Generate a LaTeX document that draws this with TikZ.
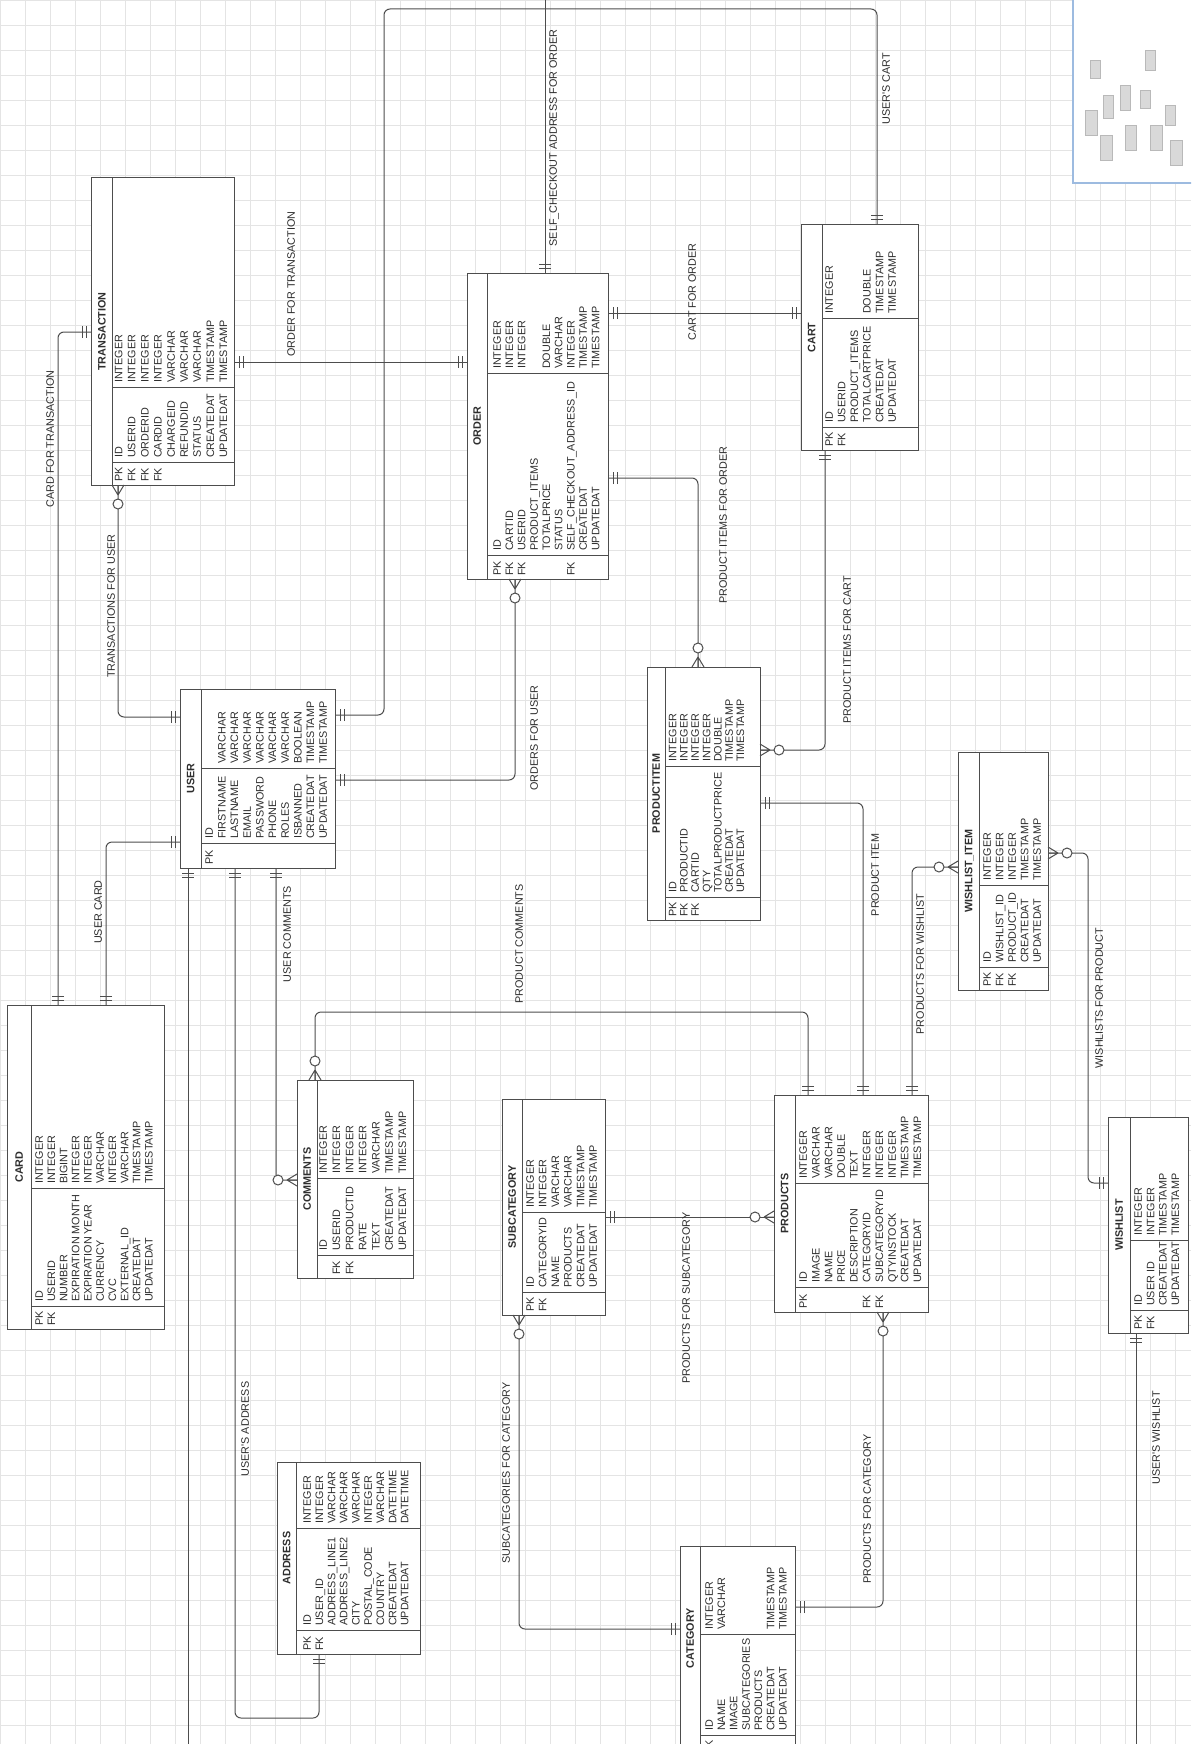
\documentclass[tikz,border=0pt]{standalone}
\usepackage{fontspec}
\setmainfont{Liberation Sans}
\definecolor{ln}{HTML}{4D4D4D}
\definecolor{tx}{HTML}{2E2E2E}
\definecolor{gridc}{HTML}{E4E4E4}
\definecolor{thumbc}{HTML}{9DBBE0}
\tikzset{
  tbl/.style={draw=ln, line width=1pt},
  fld/.style={rotate=90, anchor=west, inner sep=0pt, text height=7.7pt, text depth=0pt, font=\fontsize{10.8}{12}\selectfont, text=tx},
  ttl/.style={rotate=90, inner sep=0pt, text height=7.7pt, text depth=0pt, font=\fontsize{10.8}{12}\selectfont\bfseries, text=tx},
  lbl/.style={rotate=90, inner sep=0pt, text height=7.7pt, text depth=0pt, font=\fontsize{10.8}{12}\selectfont, text=tx},
  conn/.style={draw=ln, line width=1pt, rounded corners=6pt},
  mk/.style={draw=ln, line width=1pt},
}
\def\titleshift{0}
\newcommand\ertable[9]{%
  \draw[tbl, fill=white] (#3,#4) rectangle (#5,#6);
  \draw[tbl] (#7,#4) -- (#7,#6) (#7,#8) -- (#5,#8) (#7,#9) -- (#5,#9);
  \node[ttl] (#1-title) at ({(#3+#7)/2},{(#4+#6)/2+\titleshift}) {#2};
  \gdef\curid{#1}\gdef\curbot{#6}\gdef\curtype{#8}\gdef\curpk{#9}%
}
\newcommand\errows[3]{%
  \foreach \k/\n/\ty [count=\i from 0] in {#3} {
    \pgfmathsetmacro\rx{#1+\i*#2}
    \node[fld] (F\curid key\i) at (\rx,\curbot-3) {\k};
    \node[fld] (F\curid name\i) at (\rx,\curpk-4) {\n};
    \node[fld] (F\curid type\i) at (\rx,\curtype-4) {\ty};
  }
}
\newcommand\mone[2]{\begin{scope}[shift={(#1)},rotate=#2]\draw[mk] (5pt,-6pt)--(5pt,6pt) (9pt,-6pt)--(9pt,6pt);\end{scope}}
\newcommand\mmany[2]{\begin{scope}[shift={(#1)},rotate=#2]\draw[mk] (10pt,0pt)--(0pt,6pt) (10pt,0pt)--(0pt,-6pt) (10pt,0pt)--(0pt,0pt);\draw[mk,fill=white] (19pt,0pt) circle (5pt);\end{scope}}
\begin{document}
\begin{tikzpicture}[x=1pt,y=-1pt]
\useasboundingbox (0,0) rectangle (1191,1744);
\clip (0,0) rectangle (1191,1744);
\fill[white] (0,0) rectangle (1191,1744);
\draw[gridc, line width=0.6pt, step=25pt] (0,0) grid (1191,1744);

% ---------- connector end points ----------
\coordinate (tr-w) at (91.7,332);
\coordinate (tr-s) at (118,485);
\coordinate (tr-e) at (234,362);
\coordinate (ord-w) at (467,362);
\coordinate (ord-n) at (545,273);
\coordinate (top-a) at (545,0);
\coordinate (ord-e1) at (608,313);
\coordinate (ord-e2) at (608,478);
\coordinate (ord-s) at (515,579);
\coordinate (cart-n) at (877,225);
\coordinate (cart-w) at (801,313);
\coordinate (cart-s) at (825,450);
\coordinate (user-w1) at (180,717);
\coordinate (user-w2) at (180,842);
\coordinate (user-e1) at (335,715);
\coordinate (user-e2) at (335,780);
\coordinate (user-s1) at (188,868);
\coordinate (user-s2) at (235,868);
\coordinate (user-s3) at (276,868);
\coordinate (bot-a) at (188,1744);
\coordinate (top-l) at (384,9);
\coordinate (card-n1) at (58,1005);
\coordinate (card-n2) at (106,1005);
\coordinate (pi-n) at (698,667);
\coordinate (pi-e1) at (760,750);
\coordinate (pi-e2) at (760,803);
\coordinate (prod-n1) at (808,1095);
\coordinate (prod-n2) at (863,1095);
\coordinate (prod-n3) at (912,1095);
\coordinate (prod-w) at (774,1217);
\coordinate (prod-s) at (883,1312);
\coordinate (wi-w) at (958,867);
\coordinate (wi-e) at (1048,853);
\coordinate (wl-w) at (1108,1183);
\coordinate (wl-s) at (1136,1333);
\coordinate (bot-b) at (1136,1744);
\coordinate (com-n) at (315,1080);
\coordinate (com-w) at (297,1180);
\coordinate (sub-e) at (605,1217);
\coordinate (sub-s) at (519,1315);
\coordinate (cat-w) at (680,1629);
\coordinate (cat-e) at (795,1607);
\coordinate (addr-s) at (319,1654);

\draw[conn] (tr-w) -| (card-n1);
\draw[conn] (tr-s) |- (user-w1);
\draw[conn] (tr-e) -- (ord-w);
\draw[conn] (ord-n) -- (top-a);
\draw[conn] (user-e1) -| (top-l) -| (cart-n);
\draw[conn] (user-e2) -| (ord-s);
\draw[conn] (ord-e1) -- (cart-w);
\draw[conn] (ord-e2) -| (pi-n);
\draw[conn] (cart-s) |- (pi-e1);
\draw[conn] (pi-e2) -| (prod-n2);
\draw[conn] (wi-w) -| (prod-n3);
\draw[conn] (wi-e) -| (1088,1100) |- (wl-w);
\draw[conn] (wl-s) -- (bot-b);
\draw[conn] (com-n) |- (560,1012) -| (prod-n1);
\draw[conn] (user-s3) |- (com-w);
\draw[conn] (user-s2) |- (280,1718) -| (addr-s);
\draw[conn] (user-s1) -- (bot-a);
\draw[conn] (user-w2) -| (card-n2);
\draw[conn] (sub-e) -- (prod-w);
\draw[conn] (sub-s) |- (cat-w);
\draw[conn] (prod-s) |- (cat-e);

% ---------- labels ----------
\node[lbl] (l1) at (50,439) {CARD FOR TRANSACTION};
\node[lbl] (l2) at (111,606) {TRANSACTIONS FOR USER};
\node[lbl] (l3) at (291,284) {ORDER FOR TRANSACTION};
\node[lbl] (l4) at (553,138) {SELF\_CHECKOUT ADDRESS FOR ORDER};
\node[lbl] (l5) at (886,89) {USER\textquotesingle S CART};
\node[lbl] (l6) at (534,738) {ORDERS FOR USER};
\node[lbl] (l7) at (692,292) {CART FOR ORDER};
\node[lbl] (l8) at (723,525) {PRODUCT ITEMS FOR ORDER};
\node[lbl] (l9) at (847,650) {PRODUCT ITEMS FOR CART};
\node[lbl] (l10) at (875,875) {PRODUCT ITEM};
\node[lbl] (l11) at (920,964) {PRODUCTS FOR WISHLIST};
\node[lbl] (l12) at (1099,998) {WISHLISTS FOR PRODUCT};
\node[lbl] (l13) at (1156,1438) {USER\textquotesingle S WISHLIST};
\node[lbl] (l14) at (519,944) {PRODUCT COMMENTS};
\node[lbl] (l15) at (287,934) {USER COMMENTS};
\node[lbl] (l16) at (245,1429) {USER\textquotesingle S ADDRESS};
\node[lbl] (l17) at (98,912) {USER CARD};
\node[lbl] (l18) at (686,1298) {PRODUCTS FOR SUBCATEGORY};
\node[lbl] (l19) at (506,1473) {SUBCATEGORIES FOR CATEGORY};
\node[lbl] (l20) at (867,1509) {PRODUCTS FOR CATEGORY};

% ---------- tables ----------
\ertable{trans}{TRANSACTION}{91.7}{178}{234}{485}{112}{387}{462}
\errows{118.5}{13.1}{PK/ID/INTEGER, FK/USERID/INTEGER, FK/ORDERID/INTEGER, FK/CARDID/INTEGER, {}/CHARGEID/VARCHAR, {}/REFUNDID/VARCHAR, {}/STATUS/VARCHAR, {}/CREATEDAT/TIMESTAMP, {}/UPDATEDAT/TIMESTAMP}

\ertable{order}{ORDER}{467}{273}{608}{579}{487}{373}{555}
\errows{497}{12.3}{PK/ID/INTEGER, FK/CARTID/INTEGER, FK/USERID/INTEGER, {}/PRODUCT\_ITEMS/{}, {}/TOTALPRICE/DOUBLE, {}/STATUS/VARCHAR, FK/SELF\_CHECKOUT\_ADDRESS\_ID/INTEGER, {}/CREATEDAT/TIMESTAMP, {}/UPDATEDAT/TIMESTAMP}

\ertable{cart}{CART}{801}{225}{918}{450}{822}{318}{427}
\errows{829}{12.6}{PK/ID/INTEGER, FK/USERID/{}, {}/PRODUCT\_ITEMS/{}, {}/TOTALCARTPRICE/DOUBLE, {}/CREATEDAT/TIMESTAMP, {}/UPDATEDAT/TIMESTAMP}

\ertable{user}{USER}{180}{689}{335}{868}{201}{768}{843}
\errows{209}{12.67}{PK/ID/{}, {}/FIRSTNAME/VARCHAR, {}/LASTNAME/VARCHAR, {}/EMAIL/VARCHAR, {}/PASSWORD/VARCHAR, {}/PHONE/VARCHAR, {}/ROLES/VARCHAR, {}/ISBANNED/BOOLEAN, {}/CREATEDAT/TIMESTAMP, {}/UPDATEDAT/TIMESTAMP}

\ertable{card}{CARD}{7}{1005}{164}{1329}{31}{1188}{1306}
\errows{39}{12.2}{PK/ID/INTEGER, FK/USERID/INTEGER, {}/NUMBER/BIGINT, {}/EXPIRATION MONTH/INTEGER, {}/EXPIRATION YEAR/INTEGER, {}/CURRENCY/VARCHAR, {}/CVC/INTEGER, {}/EXTERNAL\_ID/VARCHAR, {}/CREATEDAT/TIMESTAMP, {}/UPDATEDAT/TIMESTAMP}

\ertable{comm}{COMMENTS}{297}{1080}{413}{1278}{317}{1178}{1255}
\errows{323}{13.2}{{}/ID/INTEGER, FK/USERID/INTEGER, FK/PRODUCTID/INTEGER, {}/RATE/INTEGER, {}/TEXT/VARCHAR, {}/CREATEDAT/TIMESTAMP, {}/UPDATEDAT/TIMESTAMP}

\ertable{sub}{SUBCATEGORY}{502}{1099}{605}{1315}{522}{1212}{1292}
\errows{530}{12.6}{PK/ID/INTEGER, FK/CATEGORYID/INTEGER, {}/NAME/VARCHAR, {}/PRODUCTS/VARCHAR, {}/CREATEDAT/TIMESTAMP, {}/UPDATEDAT/TIMESTAMP}

\ertable{prod}{PRODUCTS}{774}{1095}{928}{1312}{795}{1183}{1287}
\errows{803}{12.7}{PK/ID/INTEGER, {}/IMAGE/VARCHAR, {}/NAME/VARCHAR, {}/PRICE/DOUBLE, {}/DESCRIPTION/TEXT, FK/CATEGORYID/INTEGER, FK/SUBCATEGORYID/INTEGER, {}/QTYINSTOCK/INTEGER, {}/CREATEDAT/TIMESTAMP, {}/UPDATEDAT/TIMESTAMP}

\ertable{pitem}{PRODUCTITEM}{647}{667}{760}{920}{665}{766}{897}
\errows{672.5}{11.3}{PK/ID/INTEGER, FK/PRODUCTID/INTEGER, FK/CARTID/INTEGER, {}/QTY/INTEGER, {}/TOTALPRODUCTPRICE/DOUBLE, {}/CREATEDAT/TIMESTAMP, {}/UPDATEDAT/TIMESTAMP}

\ertable{witem}{WISHLIST\_ITEM}{958}{752}{1048}{990}{979}{885}{967}
\errows{987}{12.5}{PK/ID/INTEGER, FK/WISHLIST\_ID/INTEGER, FK/PRODUCT\_ID/INTEGER, {}/CREATEDAT/TIMESTAMP, {}/UPDATEDAT/TIMESTAMP}

\ertable{wish}{WISHLIST}{1108}{1117}{1188}{1333}{1130}{1240}{1310}
\errows{1138}{12.4}{PK/ID/INTEGER, FK/USER ID/INTEGER, {}/CREATEDAT/TIMESTAMP, {}/UPDATEDAT/TIMESTAMP}

\ertable{addr}{ADDRESS}{277}{1462}{420}{1654}{296}{1528}{1630}
\errows{307}{12.2}{PK/ID/INTEGER, FK/USER\_ID/INTEGER, {}/ADDRESS\_LINE1/VARCHAR, {}/ADDRESS\_LINE2/VARCHAR, {}/CITY/VARCHAR, {}/POSTAL\_CODE/INTEGER, {}/COUNTRY/VARCHAR, {}/CREATEDAT/DATETIME, {}/UPDATEDAT/DATETIME}

\def\titleshift{-14}
\ertable{cat}{CATEGORY}{680}{1546}{795}{1758}{700}{1634}{1735}
\errows{709}{12.3}{PK/ID/INTEGER, {}/NAME/VARCHAR, {}/IMAGE/{}, {}/SUBCATEGORIES/{}, {}/PRODUCTS/{}, {}/CREATEDAT/TIMESTAMP, {}/UPDATEDAT/TIMESTAMP}
\def\titleshift{0}

% ---------- cardinality marks ----------
\mone{tr-w}{180}
\mone{card-n1}{90}
\mmany{tr-s}{270}
\mone{user-w1}{180}
\mone{tr-e}{0}
\mone{ord-w}{180}
\mone{ord-n}{90}
\mone{user-e1}{0}
\mone{cart-n}{90}
\mone{user-e2}{0}
\mmany{ord-s}{270}
\mone{ord-e1}{0}
\mone{cart-w}{180}
\mone{ord-e2}{0}
\mmany{pi-n}{90}
\mone{cart-s}{270}
\mmany{pi-e1}{0}
\mone{pi-e2}{0}
\mone{prod-n2}{90}
\mmany{wi-w}{180}
\mone{prod-n3}{90}
\mmany{wi-e}{0}
\mone{wl-w}{180}
\mone{wl-s}{270}
\mmany{com-n}{90}
\mone{prod-n1}{90}
\mone{user-s3}{270}
\mmany{com-w}{180}
\mone{user-s2}{270}
\mone{addr-s}{270}
\mone{user-s1}{270}
\mone{user-w2}{180}
\mone{card-n2}{90}
\mone{sub-e}{0}
\mmany{prod-w}{180}
\mmany{sub-s}{270}
\mone{cat-w}{180}
\mmany{prod-s}{270}
\mone{cat-e}{0}

% ---------- overview thumbnail ----------
\draw[fill=white, draw=thumbc, line width=1.5pt] (1073,-3) rectangle (1195,183);
\begin{scope}[fill=gray!30, draw=gray!55, line width=0.4pt]
\filldraw (1085,110) rectangle (1097,135);
\filldraw (1103,95) rectangle (1113,118);
\filldraw (1120,85) rectangle (1130,110);
\filldraw (1140,90) rectangle (1150,108);
\filldraw (1100,135) rectangle (1112,160);
\filldraw (1125,125) rectangle (1136,150);
\filldraw (1150,125) rectangle (1162,150);
\filldraw (1165,105) rectangle (1175,125);
\filldraw (1170,140) rectangle (1182,165);
\filldraw (1090,60) rectangle (1100,78);
\filldraw (1145,50) rectangle (1155,70);
\end{scope}
\end{tikzpicture}
\end{document}
